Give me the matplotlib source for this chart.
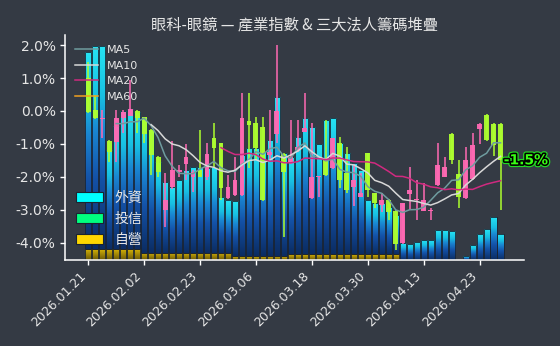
import numpy as np
import pandas as pd
import matplotlib
matplotlib.use("Agg")
import matplotlib.pyplot as plt
from matplotlib.colors import LinearSegmentedColormap
from matplotlib.patches import Patch
import matplotlib.patheffects as pe

# ---- data -------------------------------------------------------------
dates = [
    "2026.01.21", "2026.01.22", "2026.01.23", "2026.01.26", "2026.01.27",
    "2026.01.28", "2026.01.29", "2026.01.30", "2026.02.02", "2026.02.03",
    "2026.02.04", "2026.02.05", "2026.02.06", "2026.02.09", "2026.02.10",
    "2026.02.11", "2026.02.23", "2026.02.24", "2026.02.25", "2026.02.26",
    "2026.03.02", "2026.03.03", "2026.03.04", "2026.03.05", "2026.03.06",
    "2026.03.09", "2026.03.10", "2026.03.11", "2026.03.12", "2026.03.13",
    "2026.03.16", "2026.03.17", "2026.03.18", "2026.03.19", "2026.03.20",
    "2026.03.23", "2026.03.24", "2026.03.25", "2026.03.26", "2026.03.27",
    "2026.03.30", "2026.03.31", "2026.04.01", "2026.04.02", "2026.04.07",
    "2026.04.08", "2026.04.09", "2026.04.10", "2026.04.13", "2026.04.14",
    "2026.04.15", "2026.04.16", "2026.04.17", "2026.04.20", "2026.04.21",
    "2026.04.22", "2026.04.23", "2026.04.24", "2026.04.27", "2026.04.28",
]

# industry index, % change
opens = [0.99, 0.03, -0.24, -0.90, -0.93, -0.22, -0.14, 0.01, -0.19, -0.58,
         -1.39, -3.01, -2.32, -1.87, -1.62, -2.00, -1.79, -2.00, -0.83, -0.98,
         -2.65, -2.55, -2.55, -0.29, -0.37, -0.48, -1.34, -0.70, -1.31, -1.59,
         -1.20, -0.63, -2.65, -2.02, -1.49, -1.74, -0.98, -1.89, -2.30, -2.60,
         -1.29, -2.50, -2.86, -2.71, -3.05, -4.02, -2.53, -2.72, -3.03, -3.03,
         -2.25, -2.00, -0.69, -1.92, -2.65, -2.08, -0.55, -0.12, -0.40, -0.40]
highs = [1.50, 0.49, 0.03, -0.88, 0.03, 0.03, 0.94, 0.03, -0.17, -0.56,
         -1.37, -1.89, -0.90, -1.64, -1.00, -1.80, -0.58, -0.98, -0.37, -0.96,
         -1.95, -1.39, 0.54, 0.54, -0.17, -0.17, 0.03, 2.00, -1.29, -0.27,
         -0.27, 0.54, -0.37, -1.98, -0.27, -0.81, -0.78, -1.10, -1.60, -1.89,
         -1.27, -2.48, -2.50, -2.69, -3.00, -2.79, -1.69, -2.10, -2.20, -2.95,
         -0.98, -1.40, -0.67, -1.49, -1.10, -0.66, -0.37, -0.10, -0.38, -0.38]
lows = [-0.05, -0.25, -0.83, -1.54, -1.54, -0.68, -0.16, -0.68, -0.98, -1.95,
        -2.00, -3.52, -2.38, -2.00, -2.10, -2.45, -2.00, -2.10, -1.69, -2.71,
        -2.67, -2.57, -2.57, -1.74, -1.49, -2.73, -1.49, -0.98, -3.82, -1.61,
        -1.24, -0.65, -2.67, -2.60, -1.97, -1.76, -2.35, -2.50, -2.90, -2.62,
        -2.60, -2.95, -3.06, -3.31, -4.22, -4.05, -3.01, -3.31, -3.05, -3.30,
        -2.27, -2.02, -1.60, -2.95, -2.67, -2.10, -1.00, -0.90, -1.38, -3.01]
closes = [-0.02, -0.22, -0.22, -1.24, -0.22, -0.02, 0.06, -0.22, -0.70, -1.34,
          -1.84, -2.71, -1.80, -1.79, -1.39, -1.84, -2.00, -1.31, -1.13, -2.35,
          -2.30, -2.10, -0.22, -0.43, -1.13, -2.71, -1.24, 0.00, -1.84, -1.39,
          -1.10, -0.53, -2.00, -2.00, -1.95, -0.83, -2.10, -2.40, -2.10, -2.50,
          -2.40, -2.81, -2.71, -3.06, -4.05, -2.79, -2.40, -2.68, -2.71, -3.00,
          -1.65, -1.69, -1.50, -2.62, -1.49, -1.03, -0.40, -0.88, -1.03, -1.50]

# institutional chip stack (thousand lots)
foreign = [19.73, 20.33, 20.33, 9.90, 12.35, 13.80, 14.00, 13.73, 13.47, 12.27,
           9.10, 7.10, 6.60, 7.27, 8.27, 8.60, 8.60, 8.47, 8.60, 5.60,
           5.27, 5.50, 10.10, 10.83, 10.77, 10.43, 11.60, 15.93, 10.27, 9.70,
           11.78, 13.62, 12.78, 11.02, 13.45, 13.62, 11.12, 10.12, 9.12, 8.45,
           5.45, 5.12, 5.12, 4.78, 3.95, 1.65, 1.55, 1.80, 2.00, 1.95,
           3.00, 3.00, 2.90, 0.00, 0.40, 1.50, 2.60, 3.10, 4.33, 2.60]
dealer = [1.10, 1.10, 1.10, 1.10, 1.10, 1.10, 1.10, 1.10, 0.73, 0.73,
          0.73, 0.73, 0.73, 0.73, 0.73, 0.73, 0.73, 0.73, 0.73, 0.73,
          0.73, 0.40, 0.40, 0.40, 0.40, 0.40, 0.40, 0.40, 0.40, 0.55,
          0.55, 0.55, 0.55, 0.55, 0.55, 0.55, 0.55, 0.55, 0.55, 0.55,
          0.55, 0.55, 0.55, 0.55, 0.55, 0.00, 0.00, 0.00, 0.00, 0.00,
          0.00, 0.00, 0.00, 0.00, 0.00, 0.00, 0.00, 0.00, 0.00, 0.00]

chip_labels = ["外資", "投信", "自營"]
chip_colors = ["#00ffff", "#00ff7f", "#ffd700"]
ma_windows = [5, 10, 20, 60]
ma_colors = ["#6f9c9f", "#d8d8d8", "#d02a80", "#f0a020"]

# ---- style ------------------------------------------------------------
BG = "#343a44"
FG = "#e6e6e6"
UP = "#ff69b4"
DOWN = "#adff2f"
CJK = ["Noto Sans CJK TC", "DejaVu Sans"]

plt.rcParams["font.family"] = ["DejaVu Sans", "Noto Sans CJK TC"]

fig = plt.figure(figsize=(5.6, 3.46), dpi=100, facecolor=BG)
ax = fig.add_axes([0.1168, 0.2486, 0.8195, 0.6502])
axb = ax.twinx()

x = np.arange(len(dates))
o = np.array(opens)
h = np.array(highs)
l = np.array(lows)
c = np.array(closes)

# ---- chip bars with vertical gradients ----------------------------------
blue_cmap = LinearSegmentedColormap.from_list(
    "chip_blue",
    [(0.0, "#0b2c62"), (0.35, "#1452a8"), (0.58, "#1a86d2"),
     (0.75, "#18c0e2"), (1.0, "#26e4f4")])
gold_cmap = LinearSegmentedColormap.from_list(
    "chip_gold", [(0.0, "#6a5806"), (1.0, "#d6b308")])

grad = np.linspace(0, 1, 256).reshape(-1, 1)


def gradient_bars(axis, xs, heights, bottoms, cmap, width=0.88):
    bars = axis.bar(xs, heights, width=width, bottom=bottoms,
                    facecolor="none", edgecolor="#1b2431", linewidth=0.6,
                    zorder=3)
    for b in bars:
        if b.get_height() <= 0:
            continue
        x0, y0 = b.get_x(), b.get_y()
        im = axis.imshow(grad, cmap=cmap, aspect="auto", origin="lower",
                         interpolation="bilinear", zorder=2,
                         extent=(x0, x0 + b.get_width(), y0, y0 + b.get_height()))
        im.set_clip_path(b)
    return bars


dealer_arr = np.array(dealer)
gradient_bars(axb, x, dealer_arr, 0, gold_cmap)
gradient_bars(axb, x, np.array(foreign), dealer_arr, blue_cmap)

axb.set_ylim(0, 22.5)
axb.set_yticks([])
for s in axb.spines.values():
    s.set_visible(False)
axb.set_facecolor(BG)

# ---- candlesticks ------------------------------------------------------
colors = np.where(c >= o, UP, DOWN)
ax.vlines(x, l, h, colors=colors, linewidth=1.2, zorder=3, alpha=0.92)
body_h = np.maximum(np.abs(c - o), 0.03)
ax.bar(x, body_h, bottom=np.minimum(o, c), width=0.7, color=colors,
       zorder=4, alpha=0.95, linewidth=0)

# ---- moving averages ---------------------------------------------------
close_s = pd.Series(closes)
for w, col in zip(ma_windows, ma_colors):
    ax.plot(x, close_s.rolling(w).mean(), color=col, linewidth=1.1,
            label=f"MA{w}", zorder=5)

# last close label
ax.text(x[-1] + 0.45, c[-1], f"{closes[-1]:.1f}%", color="#39ff14",
        fontsize=10, fontweight="bold", va="center", ha="left", zorder=7,
        path_effects=[pe.withStroke(linewidth=4.0, foreground="#22dd22"),
                      pe.withStroke(linewidth=2.3, foreground="black")])

# ---- axes --------------------------------------------------------------
ax.set_zorder(axb.get_zorder() + 1)
ax.patch.set_visible(False)
ax.set_xlim(-3.26, 62.4)
ax.set_ylim(-4.53, 2.31)

yt = np.arange(-4, 2.5, 1.0)
ax.set_yticks(yt)
ax.set_yticklabels([f"{v:.1f}%" for v in yt])
tick_idx = list(range(0, len(dates), 8))
ax.set_xticks(tick_idx)
ax.set_xticklabels([dates[i] for i in tick_idx], rotation=45, ha="right")

for side in ("top", "right"):
    ax.spines[side].set_visible(False)
for side in ("left", "bottom"):
    ax.spines[side].set_color("white")
    ax.spines[side].set_linewidth(1.1)
ax.tick_params(axis="both", colors="white", length=3.5, width=1.0,
               labelcolor=FG)
ax.tick_params(axis="y", labelsize=10)
ax.tick_params(axis="x", labelsize=9)

ax.set_title("眼科-眼鏡 — 產業指數 & 三大法人籌碼堆疊", color=FG,
             fontsize=11, family=CJK, pad=4)

# ---- legends -----------------------------------------------------------
leg_ma = ax.legend(loc="upper left", fontsize=8, frameon=False,
                   labelcolor=FG)
ax.add_artist(leg_ma)
handles = [Patch(facecolor=col, edgecolor="#1b2431", linewidth=0.8)
           for col in chip_colors]
ax.legend(handles, chip_labels, loc="lower left", frameon=False,
          labelcolor=FG, prop={"family": CJK, "size": 10},
          bbox_to_anchor=(-0.005, 0.002))

fig.savefig("out.png", dpi=100, facecolor=BG)
